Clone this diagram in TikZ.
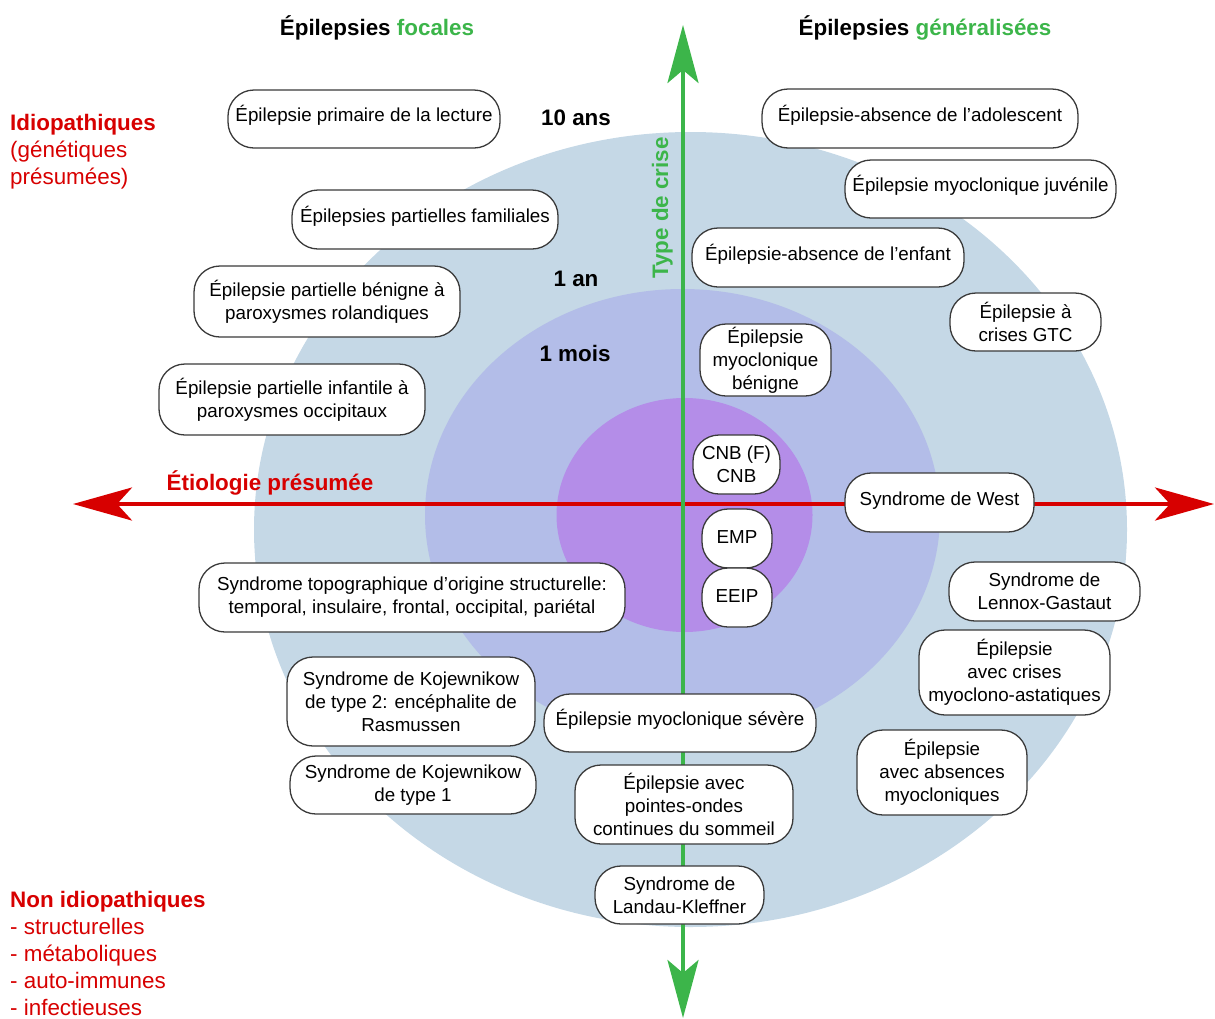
\documentclass[tikz,border=0pt]{standalone}
\usepackage{fontspec}
\setmainfont{Liberation Sans}
\usetikzlibrary{arrows.meta}
\definecolor{outerc}{HTML}{C5D8E6}
\definecolor{midc}{HTML}{B3BDE8}
\definecolor{innerc}{HTML}{B48DE8}
\definecolor{redc}{HTML}{D70000}
\definecolor{greenc}{HTML}{3CB54A}
\definecolor{boxc}{HTML}{3A3A3A}
\begin{document}
\begin{tikzpicture}[x=1pt,y=-1pt,
  box/.style={draw=boxc, fill=white, line width=1.3pt, rounded corners=26pt,
    inner sep=0pt, align=center, font=\fontsize{18.8}{23}\selectfont, text=black},
  oneline/.style={text height=15pt, text depth=10pt},
  shortline/.style={text height=15pt, text depth=6pt},
  hdr/.style={font=\fontsize{22.4}{27}\selectfont\bfseries, inner sep=0pt, anchor=base},
  redlbl/.style={font=\fontsize{22.4}{27}\selectfont, text=redc, inner sep=0pt, anchor=base west}
]
\useasboundingbox (0,0) rectangle (1215,1018);
% ellipses
\fill[outerc] (690.5,529.5) ellipse [x radius=436.5, y radius=397.5];
\fill[midc] (682.5,515) ellipse [x radius=257.5, y radius=226];
\fill[innerc] (684.5,515) ellipse [x radius=128, y radius=117];
% axes
\coordinate (lt) at (73,504);
\coordinate (rt) at (1214,504);
\coordinate (gt) at (683,25);
\coordinate (gb) at (683,1018);
\draw[redc, line width=4pt, {Stealth[length=59pt,width=33pt,inset=15pt]}-{Stealth[length=59pt,width=33pt,inset=15pt]}] (lt) -- (rt);
\draw[greenc, line width=4pt, {Stealth[length=58pt,width=31pt,inset=13pt]}-{Stealth[length=58pt,width=31pt,inset=13pt]}] (gb) -- (gt);
% headers
\node[hdr] (hf) at (377,35) {Épilepsies \textcolor{greenc}{focales}};
\node[hdr] (hg) at (925,35) {Épilepsies \textcolor{greenc}{généralisées}};
\node[hdr] (a10) at (576,125) {10 ans};
\node[hdr] (a1) at (576,286) {1 an};
\node[hdr] (m1) at (575,361) {1 mois};
\node[hdr, text=greenc, rotate=90] (tc) at (668,208) {Type de crise};
\node[hdr, text=redc] (et) at (270,490) {Étiologie présumée};
% left labels
\node[redlbl, font=\fontsize{22.4}{27}\selectfont\bfseries] (id1) at (10,130) {Idiopathiques};
\node[redlbl] (id2) at (10,157) {(génétiques};
\node[redlbl] (id3) at (10,184) {présumées)};
\node[redlbl, font=\fontsize{22.4}{27}\selectfont\bfseries] (ni1) at (10,907) {Non idiopathiques};
\node[redlbl] (ni2) at (10,934) {- structurelles};
\node[redlbl] (ni3) at (10,961) {- métaboliques};
\node[redlbl] (ni4) at (10,988) {- auto-immunes};
\node[redlbl] (ni5) at (10,1015) {- infectieuses};
% boxes focal
\node[box, oneline, minimum width=272pt, minimum height=58pt] (b1) at (364,119) {Épilepsie primaire de la lecture};
\node[box, oneline, minimum width=266pt, minimum height=59pt] (b2) at (425,219.5) {Épilepsies partielles familiales};
\node[box, minimum width=266pt, minimum height=71pt] (b3) at (327,301.5) {Épilepsie partielle bénigne à\\paroxysmes rolandiques};
\node[box, minimum width=266pt, minimum height=71pt] (b4) at (292,399.5) {Épilepsie partielle infantile à\\paroxysmes occipitaux};
\node[box, minimum width=426pt, minimum height=69pt] (b5) at (412,597.5) {Syndrome topographique d’origine structurelle:\\temporal, insulaire, frontal, occipital, pariétal};
\node[box, minimum width=248pt, minimum height=89pt] (b6) at (411,701.5) {Syndrome de Kojewnikow\\de type 2: encéphalite de\\Rasmussen};
\node[box, minimum width=246pt, minimum height=58pt] (b7) at (413,785) {Syndrome de Kojewnikow\\de type 1};
% central boxes
\node[box, oneline, minimum width=272pt, minimum height=58pt] (b8) at (680,723) {Épilepsie myoclonique sévère};
\node[box, minimum width=218pt, minimum height=79pt] (b9) at (684,804.5) {Épilepsie avec\\pointes-ondes\\continues du sommeil};
\node[box, minimum width=169pt, minimum height=58pt] (b10) at (679.5,895) {Syndrome de\\Landau-Kleffner};
% generalised boxes
\node[box, oneline, minimum width=316pt, minimum height=59pt] (b11) at (920,118.5) {Épilepsie-absence de l’adolescent};
\node[box, oneline, minimum width=271pt, minimum height=58pt] (b12) at (980.5,189) {Épilepsie myoclonique juvénile};
\node[box, oneline, minimum width=272pt, minimum height=59pt] (b13) at (828,257.5) {Épilepsie-absence de l’enfant};
\node[box, minimum width=151pt, minimum height=58pt] (b14) at (1025.5,322) {Épilepsie à\\crises GTC};
\node[box, minimum width=131pt, minimum height=72pt] (b15) at (765.5,360) {Épilepsie\\myoclonique\\bénigne};
\node[box, minimum width=87pt, minimum height=59pt] (b16) at (736.5,464.5) {CNB (F)\\CNB};
\node[box, shortline, minimum width=70pt, minimum height=59pt] (b17) at (737,538.5) {EMP};
\node[box, shortline, minimum width=70pt, minimum height=59pt] (b18) at (737,597.5) {EEIP};
\node[box, oneline, minimum width=189pt, minimum height=59pt] (b19) at (939.5,502.5) {Syndrome de West};
\node[box, minimum width=191pt, minimum height=59pt] (b20) at (1044.5,591.5) {Syndrome de\\Lennox-Gastaut};
\node[box, minimum width=191pt, minimum height=85pt] (b21) at (1014.5,672.5) {Épilepsie\\avec crises\\myoclono-astatiques};
\node[box, minimum width=170pt, minimum height=85pt] (b22) at (942,772.5) {Épilepsie\\avec absences\\myocloniques};
\end{tikzpicture}
\end{document}
